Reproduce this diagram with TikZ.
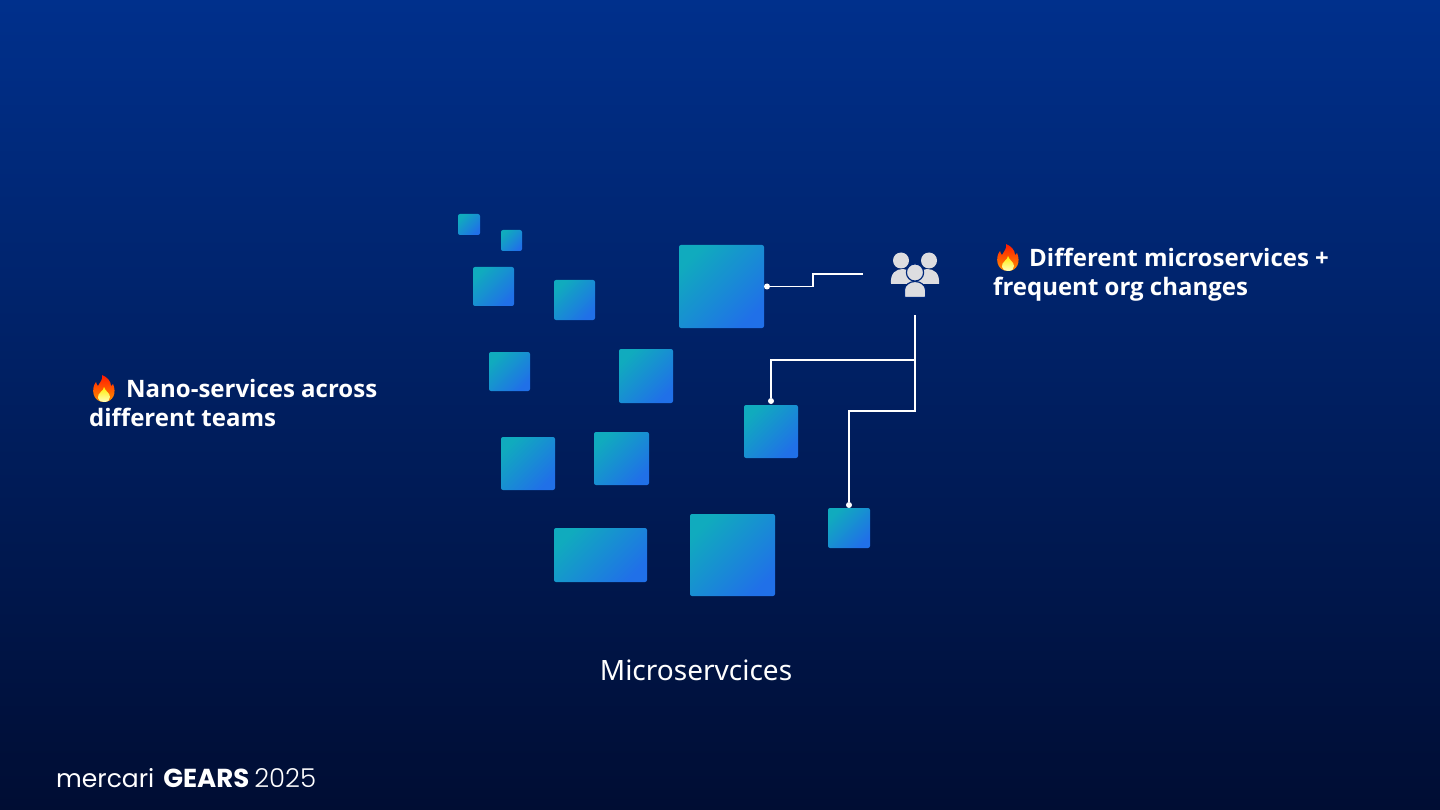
\documentclass[tikz,border=0pt]{standalone}
\usepackage{fontspec}
\setmainfont{Noto Sans}
\newfontfamily\headfont{Open Sans}
\newfontfamily\logofont{Poppins}
\newfontfamily\logolight{Poppins Light}
\definecolor{bgtop}{HTML}{00308C}
\definecolor{bgbot}{HTML}{000D33}
\definecolor{svcteal}{HTML}{10ABBE}
\definecolor{svcblue}{HTML}{2070E8}
\definecolor{teamgray}{HTML}{DDDDE0}
\definecolor{iconbg}{HTML}{00277A}
\tikzset{
  svc/.style={inner sep=0pt, rounded corners=2pt, top color=svcteal, bottom color=svcblue, shading angle=45},
  wire/.style={white, line width=1.6pt},
  pin/.style={circle, fill=white, inner sep=0pt, minimum size=6pt},
  headtext/.style={white, font=\fontsize{24}{29}\headfont\bfseries, align=left, anchor=north west, inner sep=0pt},
}
\newcommand{\flame}[1]{%
  \begin{scope}[shift={(#1)}]
    \shade[top color=red!80!orange, bottom color=orange!85!yellow] (-2,-14) .. controls (-1,-9) and (-4,-7) .. (-6,-3) .. controls (-7,-4) and (-7.5,-5) .. (-8,-7) .. controls (-13,-1) and (-12,13) .. (0,13) .. controls (9,13) and (13,4) .. (9,-5) .. controls (8.5,-4) and (8,-3.5) .. (7,-3) .. controls (7,-8) and (3,-12) .. (-2,-14) -- cycle;
    \shade[top color=yellow!85!orange, bottom color=yellow!25!white] (0,-2) .. controls (0,2) and (-7,4) .. (-6,9) .. controls (-5.5,12) and (-3,13) .. (0,13) .. controls (4,13) and (6,11) .. (6,8) .. controls (6,4) and (1,2) .. (0,-2) -- cycle;
  \end{scope}}
\begin{document}
\begin{tikzpicture}[x=1pt,y=-1pt]
\shade[top color=bgtop, bottom color=bgbot] (0,0) rectangle (1440,810);
% services
\foreach \name/\x/\y/\w/\h in {a/469/224.5/22/21,b/511.5/240.5/21/21,c/493.5/286.5/41/39,d/574.5/300/41/40,
  big/721.5/286.5/85/83,f/509.5/371.5/41/39,g/646/376/54/54,h/771/431.5/54/53,i/528/463.5/54/53,
  j/621.5/458.5/55/53,k/849/528/42/40,l/600.5/555/93/54,m/732.5/555/85/82}
  \node[svc, minimum width=\w pt, minimum height=\h pt] (\name) at (\x,\y) {};
% team icon
\node (team) at (915,274) [minimum width=104pt, minimum height=82pt, inner sep=0pt] {};
\begin{scope}[shift={(team.center)}, teamgray]
\fill (-14,-13.5) circle (8);
\fill (14,-13.5) circle (8);
\fill (-24,10) .. controls (-25,-1) and (-19,-5) .. (-12,-5) .. controls (-7,-5) and (-3,-1) .. (-2,10) -- cycle;
\fill (24,10) .. controls (25,-1) and (19,-5) .. (12,-5) .. controls (7,-5) and (3,-1) .. (2,10) -- cycle;
\filldraw[draw=iconbg, line width=1.2pt] (0,-1.5) circle (8.6);
\filldraw[draw=iconbg, line width=1.2pt, rounded corners=1pt] (-10.6,23.6) -- (-10.6,17) .. controls (-10.6,11) and (-5,7.6) .. (0,7.6) .. controls (5,7.6) and (10.6,11) .. (10.6,17) -- (10.6,23.6) -- cycle;
\end{scope}
% connectors
\node[pin] (pa) at (767,286.5) {};
\node[pin] (pb) at (771,401) {};
\node[pin] (pc) at (849,505) {};
\draw[wire] (team.west) -- (813,274) -- (813,286.5) -- (pa);
\draw[wire] (team.south) -- (915,411) -- (849,411) -- (pc);
\draw[wire] (915,360) -- (771,360) -- (pb);
% texts
\flame{104,389}
\node[headtext] (nano) at (89,379) {\hspace*{37pt}Nano-services across\\different teams};
\flame{1008,258}
\node[headtext] (diff) at (993,248) {\hspace*{36pt}Different microservices +\\frequent org changes};
\node[white, font=\fontsize{28}{32}\selectfont, inner sep=0pt] (cap) at (696,670) {Microservcices};
\node[white, anchor=west, inner sep=0pt, font=\fontsize{25}{30}\logofont] (logo) at (56,778) {mercari\hspace{9pt}{\fontsize{26}{30}\selectfont\textbf{GEARS}}\hspace{5pt}{\fontsize{26}{30}\logolight 2025}};
\end{tikzpicture}
\end{document}
